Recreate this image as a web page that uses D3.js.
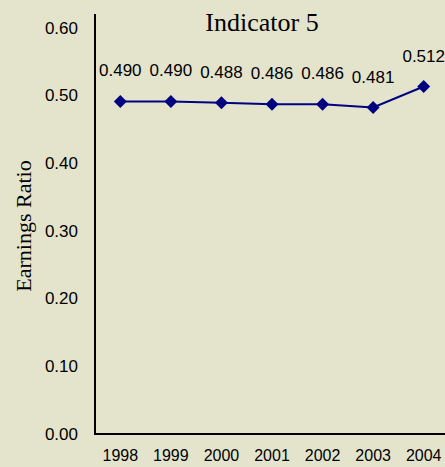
<!DOCTYPE html>
<html>
<head>
<meta charset="utf-8">
<script src="https://cdn.jsdelivr.net/npm/d3@7"></script>
<style>
  html, body { margin: 0; padding: 0; background: #e4e4cc; overflow: hidden; }
</style>
</head>
<body>
<div id="chart"></div>
<script>
const years = ['1998', '1999', '2000', '2001', '2002', '2003', '2004'];
const ratios = [0.490, 0.490, 0.488, 0.486, 0.486, 0.481, 0.512];
const yTicks = [0, 0.1, 0.2, 0.3, 0.4, 0.5, 0.6];

const width = 445, height = 467;
const sans = 'Liberation Sans, Arial, sans-serif';
const serif = 'Liberation Serif, Times New Roman, serif';

let svg = d3.select('#chart')
  .append('svg')
  .attr('width', width)
  .attr('height', height)
  .style('display', 'block');

svg.append('rect').attr('width', width).attr('height', height).attr('fill', '#e4e4cc');

// 比例尺
const xScale = d3.scaleBand().domain(years).range([95, 449]);
const yScale = d3.scaleLinear().domain([0, 0.6]).range([433, 27]);

// y轴
const yAxis = d3.axisLeft(yScale).tickValues(yTicks).tickFormat(d3.format('.2f')).tickSize(0).tickPadding(17);
svg.append('g').attr('class', 'y-axis')
  .attr('transform', 'translate(95,0)')
  .call(yAxis)
  .call(g => g.select('.domain').remove())
  .selectAll('text')
  .style('font-family', sans)
  .style('font-size', '17px')
  .attr('dy', '0.36em')
  .attr('fill', '#000');

// x轴 (年份标签贴近底边)
const xAxis = d3.axisBottom(xScale).tickSize(0).tickPadding(16);
svg.append('g').attr('class', 'x-axis')
  .attr('transform', 'translate(0,434)')
  .call(xAxis)
  .call(g => g.select('.domain').remove())
  .selectAll('text')
  .style('font-family', sans)
  .style('font-size', '16px')
  .attr('fill', '#000');

// 轴线
svg.append('line').attr('x1', 95).attr('x2', 95).attr('y1', 14).attr('y2', 435)
  .attr('stroke', '#000').attr('stroke-width', 2);
svg.append('line').attr('x1', 94).attr('x2', width).attr('y1', 434).attr('y2', 434)
  .attr('stroke', '#000').attr('stroke-width', 2);

const data = years.map((y, i) => ({ x: y, y: ratios[i] }));
const cx = d => xScale(d.x) + xScale.bandwidth() / 2;

// 折线
const line = d3.line().x(cx).y(d => yScale(d.y));
svg.append('path').datum(data)
  .attr('d', line)
  .attr('fill', 'none')
  .attr('stroke', '#000080')
  .attr('stroke-width', 2);

// 菱形点
svg.selectAll('.pt').data(data).enter()
  .append('path')
  .attr('class', 'pt')
  .attr('d', 'M0,-6.5L6.5,0L0,6.5L-6.5,0Z')
  .attr('transform', d => `translate(${cx(d)},${yScale(d.y)})`)
  .attr('fill', '#000080');

// 数据标签
svg.selectAll('.lbl').data(data).enter()
  .append('text')
  .attr('class', 'lbl')
  .attr('x', cx)
  .attr('y', d => yScale(d.y) - 25)
  .attr('text-anchor', 'middle')
  .style('font-family', sans)
  .style('font-size', '17px')
  .text(d => d3.format('.3f')(d.y));

// 标题
svg.append('text')
  .attr('x', 262).attr('y', 31)
  .attr('text-anchor', 'middle')
  .style('font-family', serif)
  .style('font-size', '26px')
  .text('Indicator 5');

svg.append('text')
  .attr('transform', 'translate(31,226) rotate(-90)')
  .attr('text-anchor', 'middle')
  .style('font-family', serif)
  .style('font-size', '22px')
  .text('Earnings Ratio');
</script>
</body>
</html>
